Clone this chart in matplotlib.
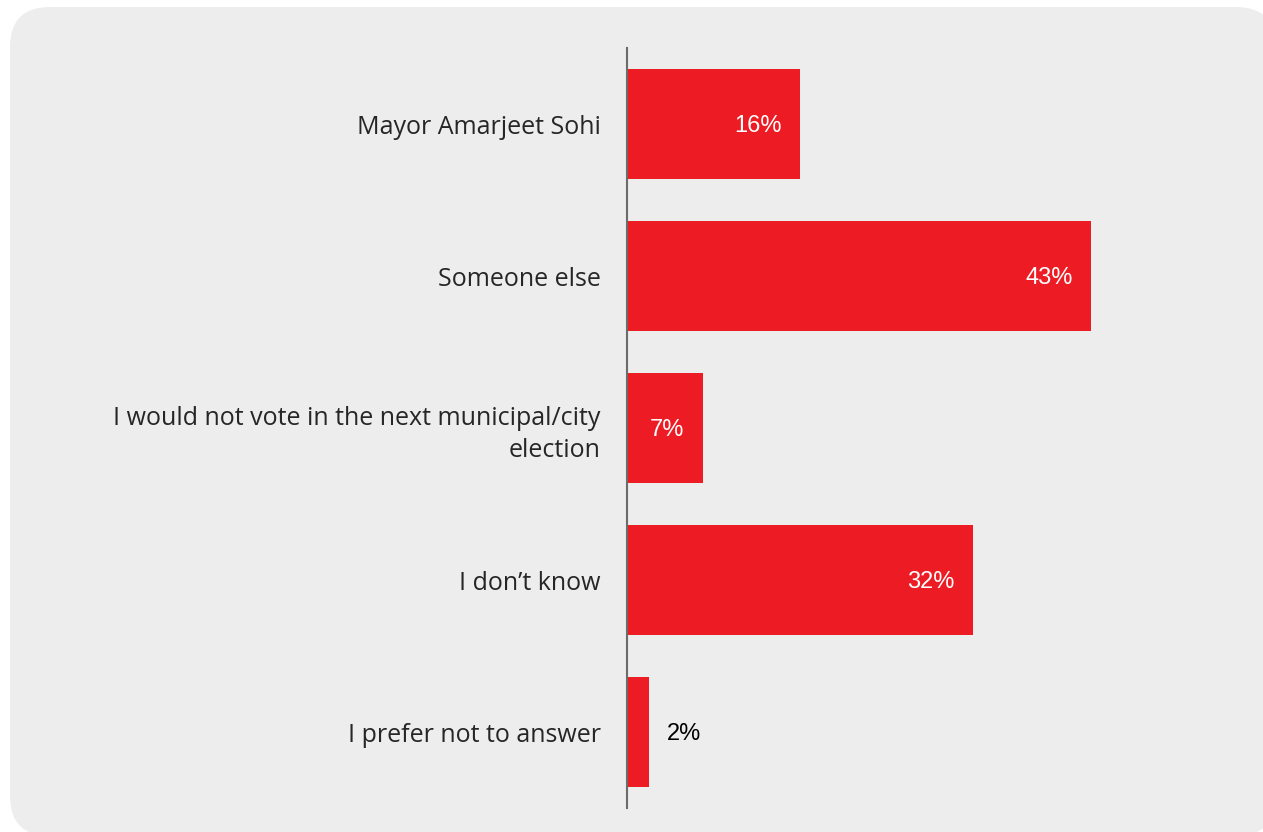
import matplotlib
matplotlib.use("Agg")
import matplotlib.pyplot as plt
from matplotlib.patches import FancyBboxPatch
from matplotlib.transforms import IdentityTransform

categories = ["Mayor Amarjeet Sohi", "Someone else",
              "I would not vote in the next municipal/city\nelection",
              "I don\u2019t know", "I prefer not to answer"]
values = [16, 43, 7, 32, 2]
value_labels = ["16%", "43%", "7%", "32%", "2%"]

BG = "#ededed"
RED = "#ed1c24"

fig = plt.figure(figsize=(12.63, 8.32), dpi=100)
fig.patch.set_facecolor("white")
bg = FancyBboxPatch((10, -4), 1266, 829, boxstyle="round,pad=0,rounding_size=40",
                    transform=IdentityTransform(), facecolor=BG, edgecolor="none", zorder=-5)
fig.patches.append(bg)

ax = fig.add_axes([627/1263, 24/832, 540/1263, 760/832])
ax.set_zorder(2)
ax.set_facecolor("none")
y = list(range(len(categories)))
ax.barh(y, values, height=0.72, color=RED, zorder=2)
ax.set_ylim(len(categories) - 0.5, -0.5)
ax.set_xlim(0, 50)
ax.set_yticks(y)
ax.set_yticklabels(categories, fontsize=18, color="#262626", family="Open Sans",
                   linespacing=1.38)
ax.tick_params(axis="y", length=0, pad=19)
ax.set_xticks([])
for s in ["top", "right", "bottom"]:
    ax.spines[s].set_visible(False)
ax.spines["left"].set_color("#6b6b6b")
ax.spines["left"].set_linewidth(1.5)
ax.spines["left"].set_zorder(3)

for yi, v, lab in zip(y, values, value_labels):
    if v >= 5:
        ax.annotate(lab, (v, yi), xytext=(-13, 0), textcoords="offset points",
                    ha="right", va="center_baseline", color="white", fontsize=17,
                    family="Liberation Sans", zorder=4)
    else:
        ax.annotate(lab, (v, yi), xytext=(13, 0), textcoords="offset points",
                    ha="left", va="center_baseline", color="black", fontsize=17,
                    family="Liberation Sans", zorder=4)

fig.savefig("out.png", dpi=100, facecolor="white")
